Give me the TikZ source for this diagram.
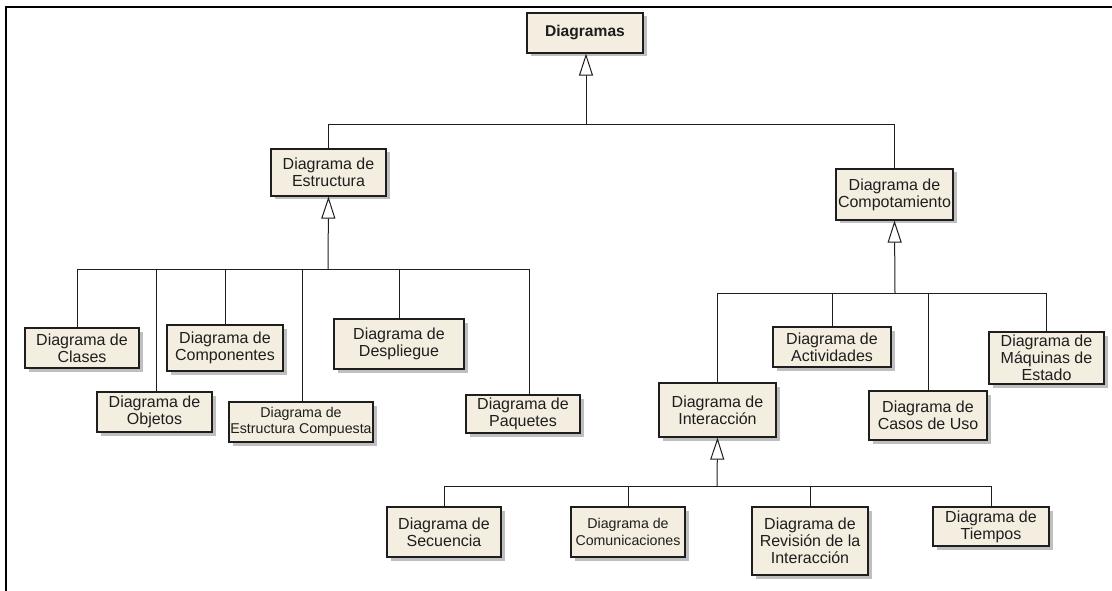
\documentclass[tikz,border=0pt]{standalone}
\usepackage{fontspec}
\setmainfont{Liberation Sans}
\usetikzlibrary{arrows.meta,shadows}
\definecolor{boxfill}{HTML}{F4EEE0}
\definecolor{inkc}{HTML}{1E1E1E}
\begin{document}
\begin{tikzpicture}[x=1pt,y=-1pt,
  uml/.style={draw=inkc, line width=1.3pt, fill=boxfill, inner sep=0pt,
    align=center, text=inkc, font=\fontsize{16}{16.8}\selectfont,
    drop shadow={shadow xshift=3.5pt, shadow yshift=-3.5pt, fill=black, opacity=0.25}},
  small/.style={font=\fontsize{14.2}{16.5}\selectfont},
  wire/.style={draw=inkc, line width=1pt},
  gen/.style={wire, -{Triangle[fill=white, length=22pt, width=14pt, line width=1pt]}},
  frame/.style={draw=black, line width=2.2pt}]
\useasboundingbox (0,0) rectangle (1112,591);
% page frame (top and left edges only)
\draw[frame] (6,591) -- (6,7) -- (1112,7);

% boxes: centre, then size
\node[uml, minimum width=116pt, minimum height=40pt, font=\bfseries\fontsize{15.6}{16.5}\selectfont] (diag) at (585,33) {Diagramas};
\node[uml, minimum width=115pt, minimum height=47pt] (estr) at (328.5,172.5) {Diagrama de\\Estructura};
\node[uml, minimum width=117pt, minimum height=51pt] (comp) at (894.5,194.5) {Diagrama de\\Compotamiento};

\node[uml, minimum width=114pt, minimum height=40pt] (clases) at (82,348) {Diagrama de\\Clases};
\node[uml, minimum width=115pt, minimum height=40pt] (objetos) at (154.5,412) {Diagrama de\\Objetos};
\node[uml, minimum width=116pt, minimum height=46pt] (compon) at (225,348) {Diagrama de\\Componentes};
\node[uml, small, minimum width=144pt, minimum height=40pt] (compuesta) at (301,422) {Diagrama de\\Estructura Compuesta};
\node[uml, minimum width=130pt, minimum height=50pt] (despl) at (399,344) {Diagrama de\\Despliegue};
\node[uml, minimum width=114pt, minimum height=38pt] (paq) at (523,414) {Diagrama de\\Paquetes};

\node[uml, minimum width=117pt, minimum height=54pt] (inter) at (717.5,410) {Diagrama de\\Interacción};
\node[uml, minimum width=118pt, minimum height=40pt] (activ) at (832,347) {Diagrama de\\Actividades};
\node[uml, minimum width=118pt, minimum height=49pt] (casos) at (928,415.5) {Diagrama de\\Casos de Uso};
\node[uml, minimum width=115pt, minimum height=52pt] (maq) at (1046.5,358) {Diagrama de\\Máquinas de\\Estado};

\node[uml, minimum width=114pt, minimum height=50pt] (secu) at (444,532) {Diagrama de\\Secuencia};
\node[uml, small, minimum width=114pt, minimum height=50pt] (comun) at (628,532) {Diagrama de\\Comunicaciones};
\node[uml, minimum width=116pt, minimum height=68pt] (revis) at (810,541) {Diagrama de\\Revisión de la\\Interacción};
\node[uml, minimum width=116pt, minimum height=39pt] (tiempos) at (991,526.5) {Diagrama de\\Tiempos};

% junction points of the generalisation trees
\coordinate (busTop) at (586,125);
\coordinate (busEstr) at (328,269);
\coordinate (busComp) at (895,293);
\coordinate (busInter) at (717,486);

% top level
\draw[gen] (busTop) -- (busTop |- diag.south);
\draw[wire] (busTop) -| (estr.north);
\draw[wire] (busTop) -| (comp.north);

% structure diagrams
\draw[gen] (busEstr) -- (estr.south);
\draw[wire] (busEstr) -| ([xshift=-5pt]clases.north);
\draw[wire] (busEstr) -| ([xshift=1.5pt]objetos.north);
\draw[wire] (busEstr) -| (compon.north);
\draw[wire] (busEstr) -| ([xshift=1pt]compuesta.north);
\draw[wire] (busEstr) -| (despl.north);
\draw[wire] (busEstr) -| ([xshift=6pt]paq.north);

% behaviour diagrams
\draw[gen] (busComp) -- (comp.south);
\draw[wire] (busComp) -| (inter.north);
\draw[wire] (busComp) -| (activ.north);
\draw[wire] (busComp) -| (casos.north);
\draw[wire] (busComp) -| (maq.north);

% interaction diagrams
\draw[gen] (busInter) -- (inter.south);
\draw[wire] (busInter) -| (secu.north);
\draw[wire] (busInter) -| (comun.north);
\draw[wire] (busInter) -| (revis.north);
\draw[wire] (busInter) -| (tiempos.north);
\end{tikzpicture}
\end{document}
